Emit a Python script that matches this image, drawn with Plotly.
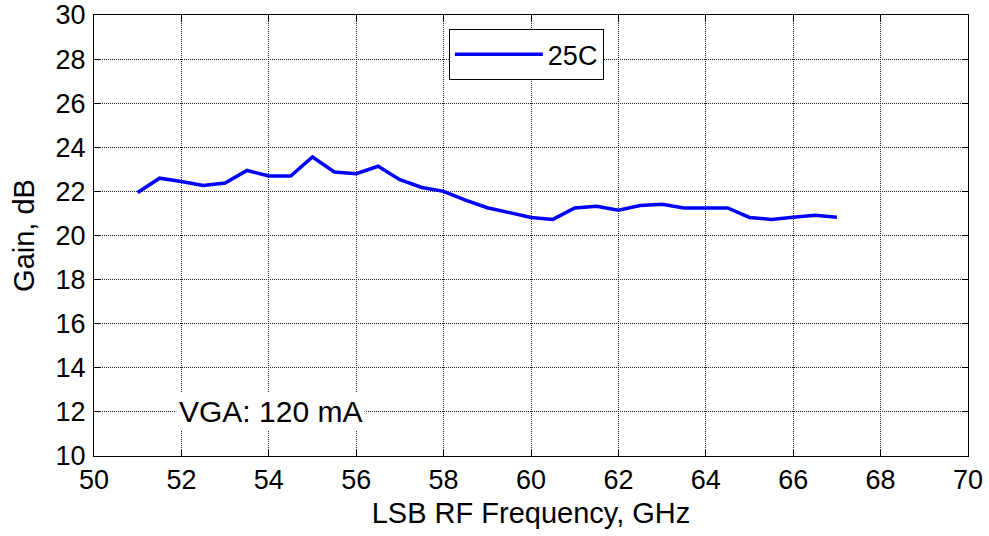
import plotly.graph_objects as go

freq_ghz = [51, 51.5, 52, 52.5, 53, 53.5, 54, 54.5, 55, 55.5, 56, 56.5, 57, 57.5, 58,
            58.5, 59, 59.5, 60, 60.5, 61, 61.5, 62, 62.5, 63, 63.5, 64, 64.5, 65,
            65.5, 66, 66.5, 67]
gain_db = [21.95, 22.6, 22.45, 22.27, 22.38, 22.95, 22.7, 22.7, 23.56, 22.88, 22.8, 23.14,
           22.53, 22.18, 22.0, 21.6, 21.26, 21.06, 20.82, 20.73, 21.25, 21.33, 21.15,
           21.36, 21.42, 21.25, 21.25, 21.25, 20.82, 20.73, 20.83, 20.92, 20.83]
series_name = "25C"
x_ticks = list(range(50, 71, 2))
y_ticks = list(range(10, 31, 2))

FONT = "Liberation Sans, Arial, sans-serif"

axis_common = dict(
    showgrid=True, gridcolor="#222222", griddash="1px,1px", gridwidth=1,
    showline=True, linecolor="#000000", linewidth=1, mirror="ticks",
    ticks="inside", ticklen=6, tickcolor="#000000",
    tickfont=dict(family=FONT, size=27, color="#000000"),
    zeroline=False, automargin=False, ticklabeloverflow="allow",
)

fig = go.Figure()
fig.add_trace(go.Scatter(x=freq_ghz, y=gain_db, mode="lines", name=series_name,
                         line=dict(color="#0000ff", width=3.5)))

fig.update_xaxes(range=[50, 70], tickvals=x_ticks, ticklabelstandoff=0,
                 title=dict(text="LSB RF Frequency, GHz", standoff=8,
                            font=dict(family=FONT, size=29, color="#000000")),
                 **axis_common)
fig.update_yaxes(range=[10, 30], tickvals=y_ticks, ticklabelstandoff=2,
                 title=dict(text="Gain, dB", standoff=12,
                            font=dict(family=FONT, size=29, color="#000000")),
                 **axis_common)

fig.add_annotation(x=54.03, y=12, xref="x", yref="y", text="VGA: 120 mA", showarrow=False,
                   bgcolor="#ffffff", borderpad=2,
                   font=dict(family=FONT, size=30, color="#000000"))

fig.update_layout(
    width=989, height=536,
    margin=dict(l=94, r=21, t=15, b=80),
    paper_bgcolor="#ffffff", plot_bgcolor="#ffffff",
    showlegend=True,
    legend=dict(x=0.406, y=0.968, xanchor="left", yanchor="top",
                bordercolor="#000000", borderwidth=1, bgcolor="#ffffff",
                font=dict(family=FONT, size=27, color="#000000"),
                itemwidth=88),
)

fig.write_html(
    "out.html",
    config={"displayModeBar": False},
    post_script="document.body.style.margin='0';document.body.style.overflow='hidden';",
)
